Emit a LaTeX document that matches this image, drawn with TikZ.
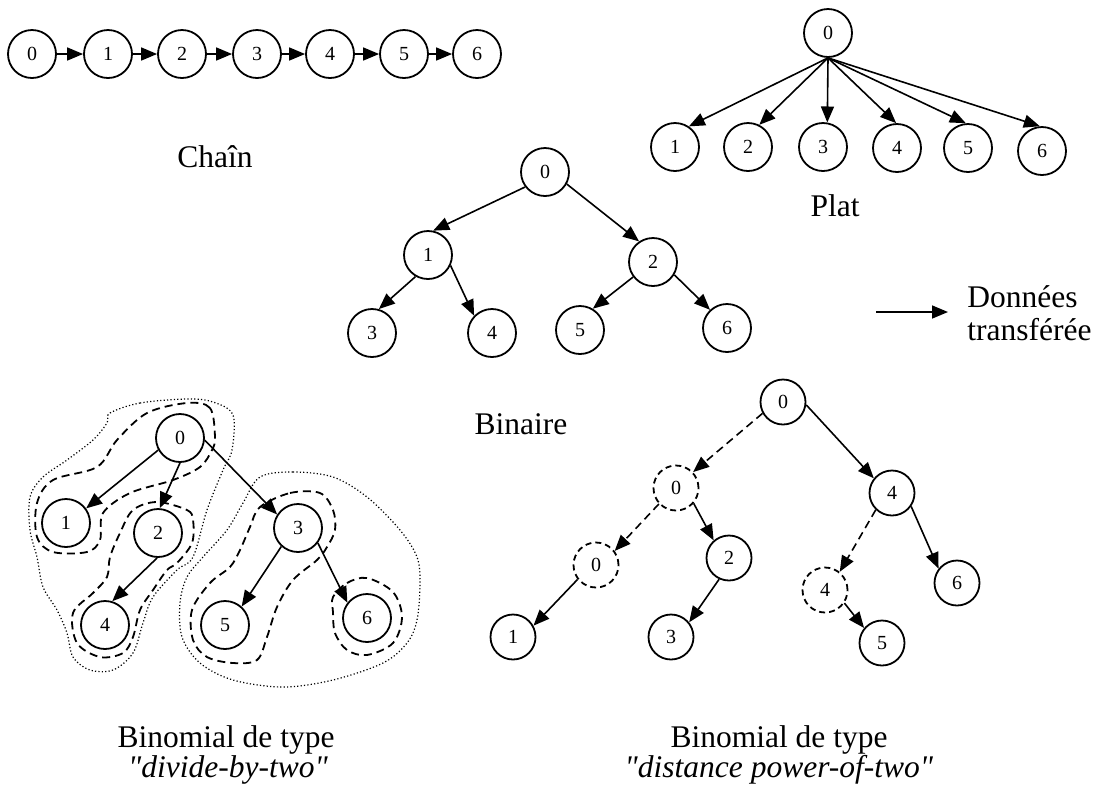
\documentclass[tikz,border=0pt]{standalone}
\usepackage{fontspec}
\setmainfont{Liberation Serif}[Ligatures=TeXOff]
\usetikzlibrary{arrows.meta}
\begin{document}
\begin{tikzpicture}[x=0.5pt,y=-0.5pt,
  nd/.style={circle,draw,line width=0.9pt,minimum size=24pt,inner sep=0pt,font=\fontsize{10}{12}\selectfont},
  ns/.style={nd,minimum size=22.5pt},
  nsd/.style={ns,dash pattern=on 3pt off 2pt},
  arr/.style={line width=0.8pt,-{Triangle[length=8pt,width=6.5pt]}},
  darr/.style={arr,dash pattern=on 4pt off 2.5pt},
  lbl/.style={font=\fontsize{15.75}{15.5}\selectfont,anchor=base,inner sep=0pt},
  loopd/.style={line width=0.9pt,dash pattern=on 4pt off 2.5pt},
  loopdot/.style={line width=0.6pt,dash pattern=on 0.6pt off 1.1pt}
]
\useasboundingbox (0,0) rectangle (1103,789);

% ---- Chain ----
\node[nd] (c0) at (32,54) {0};
\node[nd] (c1) at (108,54) {1};
\node[nd] (c2) at (182,54) {2};
\node[nd] (c3) at (257,54) {3};
\node[nd] (c4) at (330,54) {4};
\node[nd] (c5) at (404,54) {5};
\node[nd] (c6) at (477,54) {6};
\foreach \a/\b in {c0/c1,c1/c2,c2/c3,c3/c4,c4/c5,c5/c6}
  \draw[arr] (\a.east) -- (\b.west);
\node[lbl] (tchain) at (215,167) {Chaîn};

% ---- Plat ----
\node[nd] (p0) at (828,33) {0};
\node[nd] (p1) at (675,147) {1};
\node[nd] (p2) at (748,147) {2};
\node[nd] (p3) at (823,147) {3};
\node[nd] (p4) at (897,148) {4};
\node[nd] (p5) at (968,148) {5};
\node[nd] (p6) at (1042,151) {6};
\draw[arr] (p0.south) -- (p1.56);
\draw[arr] (p0.south) -- (p2.63);
\draw[arr] (p0.south) -- (p3.80);
\draw[arr] (p0.south) -- (p4.92);
\draw[arr] (p0.south) -- (p5.95);
\draw[arr] (p0.south) -- (p6.95);
\node[lbl] (tplat) at (835,216) {Plat};

% ---- Binaire ----
\node[nd] (b0) at (545,172) {0};
\node[nd] (b1) at (428,255) {1};
\node[nd] (b2) at (653,262) {2};
\node[nd] (b3) at (372,333) {3};
\node[nd] (b4) at (492,333) {4};
\node[nd] (b5) at (580,330) {5};
\node[nd] (b6) at (727,328) {6};
\draw[arr] (b0.217) -- (b1.78);
\draw[arr] (b0.-29) -- (b2.124);
\draw[arr] (b1.-120) -- (b3.74);
\draw[arr] (b1.-25) -- (b4.136);
\draw[arr] (b2.-143) -- (b5.59);
\draw[arr] (b2.-31) -- (b6.133);
\node[lbl] (tbin) at (521,434) {Binaire};

% ---- Legend ----
\coordinate (la) at (876,312);
\coordinate (lb) at (948,312);
\draw[arr] (la) -- (lb);
\node[lbl,anchor=base west] (tleg1) at (967,307) {Données};
\node[lbl,anchor=base west] (tleg2) at (967,340) {transférée};

% ---- Binomial divide-by-two ----
\draw[loopdot] plot[smooth cycle,tension=0.55] coordinates {
 (110,413) (140,403) (187,399) (213,402) (233,415) (232,450) (223,470)
 (207,510) (193,557) (177,570) (153,597) (143,623) (133,653) (113,670)
 (90,670) (73,657) (67,633) (57,610) (43,587) (37,557) (30,530) (30,497)
 (43,477) (67,460) (93,440) (107,423)};
\draw[loopdot] plot[smooth cycle,tension=0.55] coordinates {
 (260,477) (293,472) (333,477) (367,497) (400,530) (417,557) (420,583)
 (417,620) (407,643) (383,663) (333,680) (283,687) (233,680) (200,663)
 (182,637) (180,603) (187,577) (203,557) (227,530) (243,503)};
\draw[loopd] plot[smooth cycle,tension=0.55] coordinates {
 (215,437) (210,408) (187,403) (147,413) (117,440) (97,467) (53,480)
 (37,503) (37,537) (53,552) (87,552) (100,540) (103,513) (130,493)
 (173,480) (200,467) (212,450)};
\draw[loopd] plot[smooth cycle,tension=0.55] coordinates {
 (157,502) (187,510) (193,520) (192,543) (177,563) (167,570) (153,590)
 (140,610) (133,637) (123,653) (100,657) (77,643) (73,613) (93,593)
 (107,577) (110,557) (120,533) (133,510)};
\draw[loopd] plot[smooth cycle,tension=0.55] coordinates {
 (260,507) (290,493) (320,493) (333,510) (335,530) (327,547) (317,560)
 (293,580) (277,607) (267,637) (257,660) (233,663) (207,657) (193,640)
 (192,610) (210,583) (230,567) (240,550) (250,527)};
\draw[loopd] plot[smooth cycle,tension=0.55] coordinates {
 (333,597) (347,583) (367,578) (393,592) (402,617) (393,643) (367,655)
 (347,650) (335,633) (333,612)};

\node[nd,fill=white] (l0) at (180,438) {0};
\node[nd] (l1) at (66,523) {1};
\node[nd] (l2) at (158,533) {2};
\node[nd] (l3) at (298,528) {3};
\node[nd] (l4) at (105,625) {4};
\node[nd] (l5) at (225,625) {5};
\node[nd] (l6) at (367,618) {6};
\draw[arr] (l0.209) -- (l1.36);
\draw[arr] (l0.south) -- (l2.86);
\draw[arr] (l0.-5) -- (l3.147);
\draw[arr] (l2.-92) -- (l4.73);
\draw[arr] (l3.-132) -- (l5.48);
\draw[arr] (l3.-37) -- (l6.142);
\node[lbl] (tbl1) at (226,747) {Binomial de type};
\node[lbl] (tbl2) at (228,777) {\textit{"divide-by-two"}};

% ---- Binomial distance power-of-two ----
\node[ns] (r0) at (783,402) {0};
\node[nsd] (rd0) at (676,488) {0};
\node[ns] (r4) at (892,493) {4};
\node[nsd] (rdd0) at (596,565) {0};
\node[ns] (r2) at (729,558) {2};
\node[nsd] (rd4) at (825,590) {4};
\node[ns] (r6) at (957,583) {6};
\node[ns] (r1) at (513,637) {1};
\node[ns] (r3) at (671,637) {3};
\node[ns] (r5) at (882,643) {5};
\draw[darr] (r0.209) -- (rd0.43);
\draw[arr] (r0.-7) -- (r4.141);
\draw[darr] (rd0.223) -- (rdd0.37);
\draw[arr] (rd0.-41) -- (r2.131);
\draw[arr] (rdd0.218) -- (r1.29);
\draw[arr] (r2.-115) -- (r3.39);
\draw[darr] (r4.-134) -- (rd4.51);
\draw[arr] (r4.-35) -- (r6.142);
\draw[arr] (rd4.-34) -- (r5.140);
\node[lbl] (tbr1) at (779,747) {Binomial de type};
\node[lbl] (tbr2) at (779,777) {\textit{"distance power-of-two"}};
\end{tikzpicture}
\end{document}
